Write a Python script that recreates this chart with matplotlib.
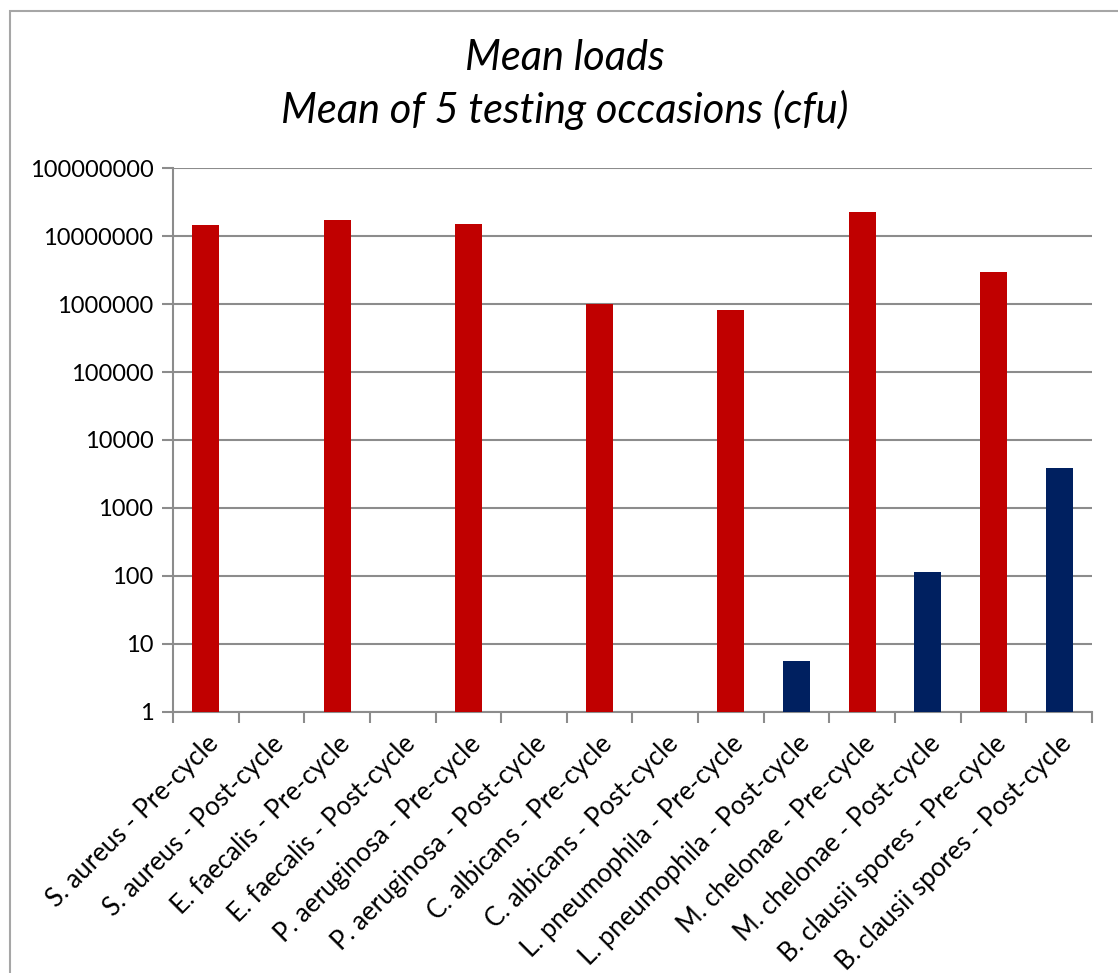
import numpy as np
import matplotlib
matplotlib.use("Agg")
import matplotlib.pyplot as plt
from matplotlib.patches import Rectangle

# data (cfu, log scale)
labels = [
    "S. aureus - Pre-cycle", "S. aureus - Post-cycle",
    "E. faecalis - Pre-cycle", "E. faecalis - Post-cycle",
    "P. aeruginosa - Pre-cycle", "P. aeruginosa - Post-cycle",
    "C. albicans - Pre-cycle", "C. albicans - Post-cycle",
    "L. pneumophila - Pre-cycle", "L. pneumophila - Post-cycle",
    "M. chelonae - Pre-cycle", "M. chelonae - Post-cycle",
    "B. clausii spores - Pre-cycle", "B. clausii spores - Post-cycle",
]
mean_load = [1.47e7, 0, 1.74e7, 0, 1.52e7, 0, 1.0e6, 0,
             8.2e5, 5.6, 2.3e7, 114, 3.0e6, 3880]
is_pre = [True, False] * 7
ytick_vals = [1, 10, 100, 1000, 10000, 100000, 1000000, 10000000, 100000000]

RED = "#C00000"
NAVY = "#002060"
GRID = "#8c8c8c"

plt.rcParams["font.family"] = ["Lato", "DejaVu Sans"]

fig = plt.figure(figsize=(11.18, 9.73), dpi=100)
ax = fig.add_axes([0.1547, 0.2686, 0.822, 0.5584])

x = np.arange(len(labels))
for i, v in enumerate(mean_load):
    if v > 0:
        ax.bar(x[i], v - 1, bottom=1, width=0.41,
               color=RED if is_pre[i] else NAVY, zorder=3)

ax.set_yscale("log")
ax.set_ylim(1, 1e8)
ax.set_xlim(-0.5, len(labels) - 0.5)
ax.set_yticks(ytick_vals)
ax.set_yticklabels([str(v) for v in ytick_vals], fontsize=17)
ax.yaxis.set_minor_locator(matplotlib.ticker.NullLocator())

# category boundary ticks, labels at centres
ax.set_xticks(np.arange(len(labels) + 1) - 0.5)
ax.set_xticklabels([])
ax.set_xticks(x, minor=True)
ax.set_xticklabels(labels, minor=True, rotation=45, ha="right",
                   rotation_mode="anchor", fontsize=18.5)
ax.tick_params(axis="x", which="minor", length=0, pad=14)
ax.tick_params(axis="x", which="major", length=8, width=1.5, color=GRID)
ax.tick_params(axis="y", length=8, width=1.5, color=GRID, pad=6)

ax.grid(axis="y", color=GRID, linewidth=1.5, zorder=0)
for s in ["top", "right"]:
    ax.spines[s].set_visible(False)
for s in ["left", "bottom"]:
    ax.spines[s].set_color(GRID)
    ax.spines[s].set_linewidth(1.5)

fig.text(0.505, 0.94, "Mean loads", ha="center", va="center",
         fontsize=30, style="italic")
fig.text(0.505, 0.887, "Mean of 5 testing occasions (cfu)", ha="center",
         va="center", fontsize=30, style="italic")

# outer chart frame
fig.patches.append(Rectangle((10 / 1118, -0.01), 1.1, 1 - 11 / 973 + 0.01,
                             transform=fig.transFigure, fill=False,
                             edgecolor="#a6a6a6", linewidth=1.5))

fig.savefig("out.png", dpi=100)
